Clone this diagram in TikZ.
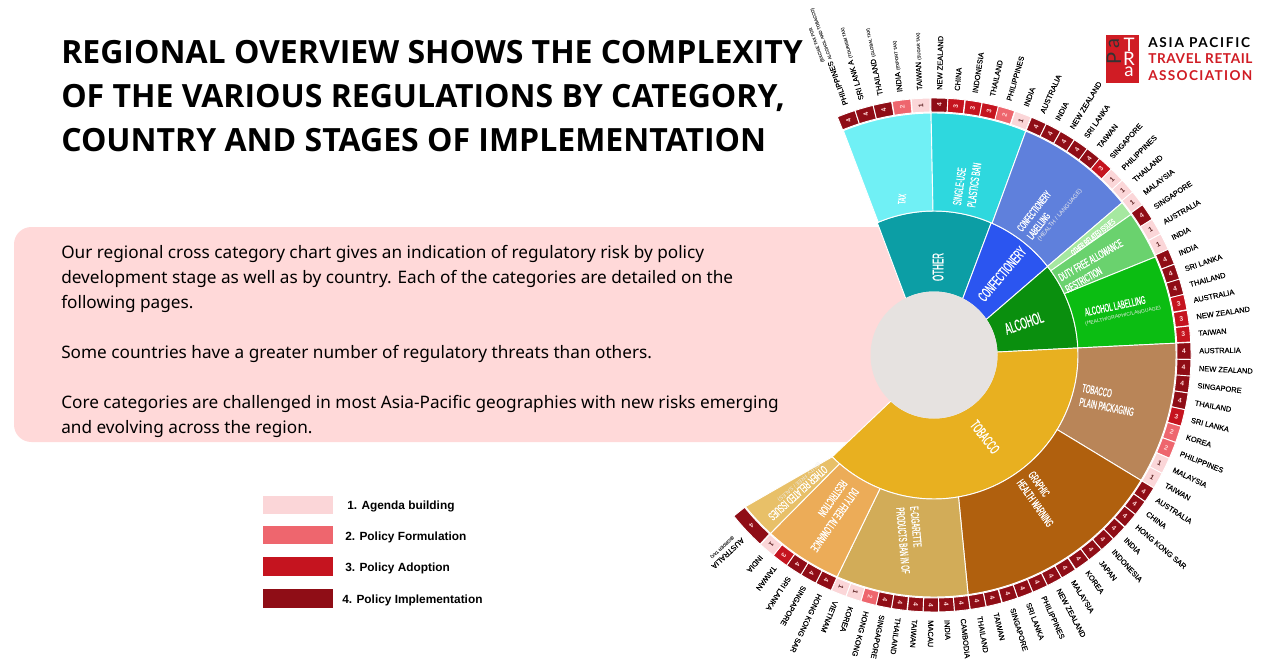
\documentclass[tikz,border=0pt]{standalone}
\usepackage{fontspec}
\setmainfont{Liberation Sans}
\newfontfamily\headfont{Noto Sans}
\newfontfamily\titlefont{Open Sans}
\newfontfamily\condfont[FakeStretch=0.52,FakeBold=0.7]{Liberation Sans}
\newfontfamily\countryfont[FakeBold=0.35]{Liberation Sans}
\newfontfamily\logofont{Lato}

\definecolor{bandpink}{HTML}{FFD9D9}
\definecolor{scorefill1}{HTML}{FBD6D8}
\definecolor{scorefill2}{HTML}{EE666E}
\definecolor{scorefill3}{HTML}{C5141F}
\definecolor{scorefill4}{HTML}{8F0D16}
\definecolor{scoretext1}{HTML}{5A2020}
\definecolor{scoretext2}{HTML}{FFD5D5}
\definecolor{scoretext3}{HTML}{FFD5D5}
\definecolor{scoretext4}{HTML}{FFD5D5}
\definecolor{logored}{HTML}{D01C24}
\definecolor{othercol}{HTML}{0C9EA5}
\definecolor{confcol}{HTML}{2B55F0}
\definecolor{alcoholcol}{HTML}{0A8F0E}
\definecolor{tobaccocol}{HTML}{E8B020}
\definecolor{hubcol}{HTML}{E6E2E0}
\definecolor{taxcol}{HTML}{70F0F5}
\definecolor{singlecol}{HTML}{2ED8DE}
\definecolor{labellingcol}{HTML}{5F80DC}
\definecolor{otheralccol}{HTML}{A5E8A0}
\definecolor{dutyalccol}{HTML}{6AD26E}
\definecolor{alclabelcol}{HTML}{0BBD12}
\definecolor{plaincol}{HTML}{B98558}
\definecolor{graphiccol}{HTML}{B0600E}
\definecolor{ecigcol}{HTML}{D2AC58}
\definecolor{dutytobcol}{HTML}{ECAC58}
\definecolor{othertobcol}{HTML}{E8C068}

\tikzset{
  sectorline/.style={draw=white,line width=0.7pt},
  sectortext/.style={text=white,font=\condfont\fontsize{#1}{1.2\dimexpr#1\relax}\selectfont,align=left,inner sep=0pt},
  subtext/.style={text=white!85!gray,font=\fontsize{#1}{1.2\dimexpr#1\relax}\selectfont,inner sep=0pt},
  countrytext/.style={font=\countryfont\fontsize{5.6pt}{5.4pt}\selectfont,text=black,inner sep=0pt,anchor=west,align=center},
  legendtext/.style={font=\bfseries\fontsize{8.9pt}{10pt}\selectfont,anchor=west,inner sep=0pt},
  logotext/.style={font=\logofont\bfseries\fontsize{10.2pt}{12pt}\selectfont,anchor=west,inner sep=0pt},
}

\newcommand{\sector}[7]{%
  \filldraw[sectorline,fill=#7] (#3:#1) -- (#5:#2) arc[start angle=#5,end angle=#6,radius=#2]
    -- (#4:#1) arc[start angle=#4,end angle=#3,radius=#1] -- cycle;}
\newcommand{\scorecell}[4]{%
  \filldraw[sectorline,fill=scorefill#3] ({#1+#2}:243) -- ({#1+#2}:257) arc[start angle={#1+#2},end angle={#1-#2},radius=257]
    -- ({#1-#2}:243) arc[start angle={#1-#2},end angle={#1+#2},radius=243] -- cycle;
  \node[text=scoretext#3,font=\bfseries\fontsize{5pt}{6pt}\selectfont,rotate=#1,inner sep=0pt] at (#1:250) {#3};
  \node[countrytext,rotate=#1] at (#1:265) {#4};}
\newcommand{\subcountry}[1]{{\fontsize{3.2pt}{3.6pt}\selectfont\color{black!70}#1}}

\begin{document}
\begin{tikzpicture}[x=0.75pt,y=0.75pt]
  \useasboundingbox (0,0) rectangle (1280,662);

  % Pink band
  \fill[bandpink,rounded corners=13pt] (14,220) rectangle (934,435);
  \node[anchor=north west,inner sep=0pt,align=left,font=\headfont\fontsize{12.9pt}{18.75pt}\selectfont] (bodytext) at (61,417)
    {Our regional cross category chart gives an indication of regulatory risk by policy\\
     development stage as well as by country. Each of the categories are detailed on the\\
     following pages.\\[18.75pt]
     Some countries have a greater number of regulatory threats than others.\\[18.75pt]
     Core categories are challenged in most Asia-Pacific geographies with new risks emerging\\
     and evolving across the region.};

  % Title
  \node[anchor=north west,inner sep=0pt,align=left,font=\titlefont\bfseries\fontsize{24pt}{33pt}\selectfont] (titletext) at (61,622)
    {REGIONAL OVERVIEW SHOWS THE COMPLEXITY\\
     OF THE VARIOUS REGULATIONS BY CATEGORY,\\
     COUNTRY AND STAGES OF IMPLEMENTATION};

  % Logo
  \fill[logored] (1106,579) rectangle (1139,627);
  \node[rotate=90,text=black!80,font=\logofont\fontsize{15pt}{15pt}\selectfont,inner sep=0pt] (logoa) at (1114,618) {a};
  \node[rotate=90,text=black!80,font=\logofont\fontsize{15pt}{15pt}\selectfont,inner sep=0pt] (logop) at (1114,604) {P};
  \node[text=white,font=\logofont\fontsize{14pt}{14pt}\selectfont,inner sep=0pt] (logot) at (1129,617) {T};
  \node[text=white,font=\logofont\fontsize{14pt}{14pt}\selectfont,inner sep=0pt] (logor) at (1129,603) {R};
  \node[text=white,font=\logofont\fontsize{14pt}{14pt}\selectfont,inner sep=0pt] (logoc) at (1129,590) {a};
  \node[logotext] (logoasia) at (1148,619) {\addfontfeature{LetterSpace=12.9}ASIA PACIFIC};
  \node[logotext,text=logored] (logotravel) at (1148,603) {\addfontfeature{LetterSpace=4.5}TRAVEL RETAIL};
  \node[logotext,text=logored] (logoassoc) at (1148,586) {\addfontfeature{LetterSpace=10}ASSOCIATION};

  % Legend
  \fill[scorefill1] (263,148) rectangle (333,166);
  \fill[scorefill2] (263,118) rectangle (333,136);
  \fill[scorefill3] (263,86) rectangle (333,105);
  \fill[scorefill4] (263,54) rectangle (333,73);
  \node[legendtext] (legend1) at (347,156) {1. Agenda building};
  \node[legendtext] (legend2) at (345,125) {2. Policy Formulation};
  \node[legendtext] (legend3) at (345,94) {3. Policy Adoption};
  \node[legendtext] (legend4) at (342,62) {4. Policy Implementation};

  \begin{scope}[shift={(934,307)}]
    % Inner ring
    \sector{63}{144}{116.6}{63}{113.2}{66.6}{othercol}
    \sector{63}{144}{63}{34.2}{66.6}{37.9}{confcol}
    \sector{63}{144}{34.2}{2.7}{37.9}{2.8}{alcoholcol}
    \sector{63}{144}{2.7}{-133.1}{2.8}{-135}{tobaccocol}
    \fill[hubcol] (0,0) circle (63.5);

    % Outer ring
    \sector{144}{242}{112.8}{90.4}{112}{90.7}{taxcol}
    \sector{144}{242}{90.4}{66.2}{90.7}{67.7}{singlecol}
    \sector{144}{242}{66.2}{38}{67.7}{39}{labellingcol}
    \sector{144}{242}{38}{35.8}{39}{35.5}{otheralccol}
    \sector{144}{242}{35.8}{25.2}{35.5}{23.9}{dutyalccol}
    \sector{144}{242}{25.2}{2.8}{23.9}{2.8}{alclabelcol}
    \sector{144}{242}{2.8}{-31.2}{2.8}{-31.2}{plaincol}
    \sector{144}{242}{-31.2}{-80.2}{-31.2}{-81.9}{graphiccol}
    \sector{144}{242}{-80.2}{-112}{-81.9}{-113.6}{ecigcol}
    \sector{144}{242}{-112}{-131}{-113.6}{-132.5}{dutytobcol}
    \sector{144}{242}{-131}{-135}{-132.5}{-141.2}{othertobcol}

    % Tax
    \scorecell{110}{2.1}{4}{PHILIPPINES \subcountry{\shortstack[l]{(EXCISE TAX FOR\\ALCOHOL AND TOBACCO)}}}
    \scorecell{105.8}{2.1}{4}{SRI LANK A \subcountry{(TOURISM TAX)}}
    \scorecell{101.6}{2.1}{4}{THAILAND \subcountry{(GLOBAL TAX)}}
    \scorecell{97.3}{2.1}{2}{INDIA \subcountry{(EXPORT TAX)}}
    \scorecell{93}{2.1}{1}{TAIWAN \subcountry{(SUGAR TAX)}}
    % Single-use plastics
    \scorecell{88.8}{1.9}{4}{NEW ZEALAND}
    \scorecell{85}{1.9}{3}{CHINA}
    \scorecell{81.1}{1.9}{3}{INDONESIA}
    \scorecell{77.3}{1.9}{3}{THAILAND}
    \scorecell{73.6}{1.9}{2}{PHILIPPINES}
    \scorecell{69.7}{1.9}{1}{INDIA}
    % Confectionery labelling
    \scorecell{65.9}{1.8}{4}{AUSTRALIA}
    \scorecell{62.3}{1.8}{4}{INDIA}
    \scorecell{58.7}{1.8}{4}{NEW ZEALAND}
    \scorecell{55.1}{1.8}{4}{SRI LANKA}
    \scorecell{51.6}{1.8}{4}{TAIWAN}
    \scorecell{48.1}{1.8}{3}{SINGAPORE}
    \scorecell{44.6}{1.8}{1}{PHILIPPINES}
    \scorecell{41.1}{1.8}{1}{THAILAND}
    \scorecell{37.6}{1.8}{1}{MALAYSIA}
    % Alcohol
    \scorecell{33.8}{2}{4}{SINGAPORE}
    \scorecell{30}{1.9}{1}{AUSTRALIA}
    \scorecell{26.2}{1.9}{1}{INDIA}
    \scorecell{22.5}{1.8}{4}{INDIA}
    \scorecell{18.9}{1.8}{4}{SRI LANKA}
    \scorecell{15.4}{1.8}{4}{THAILAND}
    \scorecell{11.9}{1.75}{3}{AUSTRALIA}
    \scorecell{8.3}{1.75}{3}{NEW ZEALAND}
    \scorecell{4.7}{1.8}{3}{TAIWAN}
    % Tobacco plain packaging
    \scorecell{0.9}{1.9}{4}{AUSTRALIA}
    \scorecell{-2.9}{1.9}{4}{NEW ZEALAND}
    \scorecell{-6.6}{1.9}{4}{SINGAPORE}
    \scorecell{-10.4}{1.9}{4}{THAILAND}
    \scorecell{-14.2}{1.9}{3}{SRI LANKA}
    \scorecell{-18}{1.9}{2}{KOREA}
    \scorecell{-21.8}{1.9}{2}{PHILIPPINES}
    \scorecell{-25.6}{1.9}{1}{MALAYSIA}
    \scorecell{-29.3}{1.9}{1}{TAIWAN}
    % Graphic health warning
    \scorecell{-33}{1.8}{4}{AUSTRALIA}
    \scorecell{-36.6}{1.8}{4}{CHINA}
    \scorecell{-40.2}{1.8}{4}{HONG KONG SAR}
    \scorecell{-43.9}{1.8}{4}{INDIA}
    \scorecell{-47.5}{1.8}{4}{INDONESIA}
    \scorecell{-51.1}{1.8}{4}{JAPAN}
    \scorecell{-54.7}{1.8}{4}{KOREA}
    \scorecell{-58.4}{1.8}{4}{MALAYSIA}
    \scorecell{-62}{1.8}{4}{NEW ZEALAND}
    \scorecell{-65.6}{1.8}{4}{PHILIPPINES}
    \scorecell{-69.2}{1.8}{4}{SRI LANKA}
    \scorecell{-72.8}{1.8}{4}{SINGAPORE}
    \scorecell{-76.5}{1.8}{4}{TAIWAN}
    \scorecell{-80.1}{1.8}{4}{THAILAND}
    % E-cigarette
    \scorecell{-83.7}{1.75}{4}{CAMBODIA}
    \scorecell{-87.2}{1.75}{4}{INDIA}
    \scorecell{-90.7}{1.75}{4}{MACAU}
    \scorecell{-94.2}{1.75}{4}{TAIWAN}
    \scorecell{-97.8}{1.75}{4}{THAILAND}
    \scorecell{-101.3}{1.75}{4}{SINGAPORE}
    \scorecell{-104.8}{1.75}{2}{HONG KONG}
    \scorecell{-108.3}{1.75}{1}{KOREA}
    \scorecell{-111.8}{1.75}{1}{VIETNAM}
    % Duty free allowance
    \scorecell{-115.5}{1.9}{4}{HONG KONG SAR}
    \scorecell{-119.3}{1.9}{4}{SINGAPORE}
    \scorecell{-123.1}{1.9}{4}{SRI LANKA}
    \scorecell{-126.9}{1.9}{3}{TAIWAN}
    \scorecell{-130.6}{1.9}{1}{INDIA}
    % Other related issues
    \scorecell{-136.9}{4.3}{4}{AUSTRALIA\\\subcountry{(BORDER TAX)}}
  \end{scope}

  % Inner ring labels
  \node[sectortext=11.5pt,rotate=90] (otherlabel) at (938,395) {OTHER};
  \node[sectortext=11pt,rotate=50] (conflabel) at (1002,388) {CONFECTIONERY};
  \node[sectortext=12pt,rotate=19] (alcohollabel) at (1024,339) {ALCOHOL};
  \node[sectortext=11pt,rotate=-52] (tobaccolabel) at (985,225) {TOBACCO};

  % Outer ring labels
  \node[sectortext=8pt,rotate=85] (taxlabel) at (902,463) {TAX};
  \node[sectortext=9pt,rotate=82] (singlelabel) at (967,478) {SINGLE-USE\\PLASTICS BAN};
  \node[sectortext=8pt,rotate=52] (conflabelling) at (1039,447) {CONFECTIONERY\\LABELLING};
  \node[subtext=4.5pt,rotate=50] (confsub) at (1060,447) {(HEALTH / LANGUAGE)};
  \node[sectortext=6.3pt,rotate=38] (otheralcohol) at (1093,425) {OTHER RELATED ISSUES};
  \node[sectortext=8.5pt,rotate=30] (dutyalcohol) at (1094,396) {DUTY FREE ALLOWANCE\\RESTRICTION};
  \node[sectortext=8.5pt,rotate=12] (alclabelling) at (1115,356) {ALCOHOL LABELLING};
  \node[subtext=3.8pt,rotate=12] (alcsub) at (1123,346) {(HEALTH/GRAPHIC/LANGUAGE)};
  \node[sectortext=8.8pt,rotate=-11] (plainlabel) at (1108,262) {TOBACCO\\PLAIN PACKAGING};
  \node[sectortext=8.8pt,rotate=-55] (graphiclabel) at (1041,163) {GRAPHIC\\HEALTH WARNING};
  \node[sectortext=8.8pt,rotate=-85] (ecigarette) at (910,122) {E-CIGARETTE\\PRODUCTS BAN IN OF};
  \node[sectortext=8.8pt,rotate=-125] (dutytobacco) at (829,146) {DUTY FREE ALLOWANCE\\RESTRICTION};
  \node[sectortext=8.8pt,rotate=-138] (othertobacco) at (798,169) {OTHER RELATED ISSUES};
  \node[subtext=4pt,rotate=-138] (othersub) at (799,180) {(DUTY FREE / SALES)};
\end{tikzpicture}
\end{document}
